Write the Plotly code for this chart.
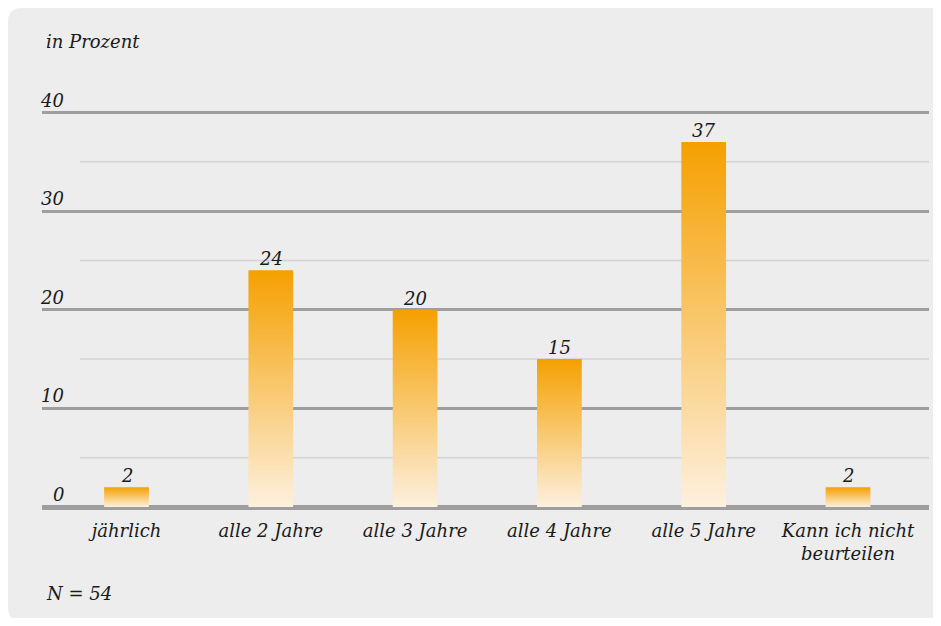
"""Bar chart: Intervall in Prozent, N = 54."""

import plotly.graph_objects as go

categories = ["jährlich", "alle 2 Jahre", "alle 3 Jahre", "alle 4 Jahre",
              "alle 5 Jahre", "Kann ich nicht<br>beurteilen"]
values = [2, 24, 20, 15, 37, 2]
major_ticks = [0, 10, 20, 30, 40]
minor_ticks = [5, 15, 25, 35]

COLORS = {
    "card": "#ECEDEC",
    "text": "#1A1A1A",
    "major": "#9E9E9E",
    "minor": "#D2D3D2",
    "bar_top": "#F5A000",
    "bar_bottom": "#FDF0DE",
}
FONT = dict(family="DejaVu Serif, Liberation Serif, serif", size=18,
            color=COLORS["text"], style="italic")

# page body adds an 8px margin, so all pixel positions are shifted back by it
OFF = 8
W, H = 941 - 2 * OFF, 626 - 2 * OFF
L, R, T, B = 42 - OFF, 929 - OFF, 100 - OFF, 510 - OFF
ZERO_PX = 507 - OFF
PX_PER_UNIT = 9.8625
BAR_W = 0.31


def px(x):
    return (x - OFF - L) / (R - L)


def py(y):
    return (B - (y - OFF)) / (B - T)


fig = go.Figure()

for i, (cat, v) in enumerate(zip(categories, values)):
    fig.add_trace(go.Scatter(
        x=[i - BAR_W / 2, i + BAR_W / 2], y=[v, v],
        mode="lines", line=dict(width=0), fill="tozeroy",
        fillgradient=dict(type="vertical",
                          colorscale=[[0, COLORS["bar_bottom"]], [1, COLORS["bar_top"]]]),
        hoverinfo="skip", showlegend=False,
    ))

# rounded card behind everything
r = 14
x0, x1, y0, y1 = 8, 960, 8, 621
card_path = (
    f"M {px(x0 + r)} {py(y0)} L {px(x1)} {py(y0)} L {px(x1)} {py(y1)} "
    f"L {px(x0 + r)} {py(y1)} Q {px(x0)} {py(y1)} {px(x0)} {py(y1 - r)} "
    f"L {px(x0)} {py(y0 + r)} Q {px(x0)} {py(y0)} {px(x0 + r)} {py(y0)} Z"
)
shapes = [dict(type="path", path=card_path, xref="paper", yref="paper",
               fillcolor=COLORS["card"], line=dict(width=0), layer="below")]
for m in minor_ticks:
    shapes.append(dict(type="line", xref="paper", yref="y", x0=px(80), x1=1,
                       y0=m, y1=m, line=dict(color=COLORS["minor"], width=1.5),
                       layer="below"))

annotations = []
for t in major_ticks:
    annotations.append(dict(text=str(t), xref="paper", yref="y", x=px(66), y=t,
                            xanchor="right", yanchor="bottom", yshift=0,
                            showarrow=False, font=FONT))
for i, v in enumerate(values):
    annotations.append(dict(text=str(v), x=i, y=v, xanchor="center", yanchor="bottom",
                            yshift=-1, showarrow=False, font=FONT))
annotations.append(dict(text="in Prozent", xref="paper", yref="paper", x=px(44), y=py(41),
                        xanchor="left", yanchor="middle", showarrow=False, font=FONT))
annotations.append(dict(text="N = 54", xref="paper", yref="paper", x=px(44), y=py(593),
                        xanchor="left", yanchor="middle", showarrow=False, font=FONT))

c0 = 126.5 - OFF
step = 144.3
fig.update_layout(
    width=W, height=H,
    margin=dict(l=L, r=W - R, t=T, b=H - B, pad=0),
    paper_bgcolor="white", plot_bgcolor="rgba(0,0,0,0)",
    font=FONT,
    shapes=shapes, annotations=annotations,
    xaxis=dict(range=[(L - c0) / step, (R - c0) / step],
               tickvals=list(range(len(categories))), ticktext=categories,
               showgrid=False, zeroline=False, showline=False, ticks="",
               ticklabelstandoff=8, tickfont=FONT, fixedrange=True),
    yaxis=dict(range=[-(B - ZERO_PX) / PX_PER_UNIT, (ZERO_PX - T) / PX_PER_UNIT],
               tickvals=major_ticks, showticklabels=False,
               showgrid=True, gridcolor=COLORS["major"], gridwidth=2.5,
               zeroline=True, zerolinecolor=COLORS["major"], zerolinewidth=5,
               showline=False, ticks="", fixedrange=True),
)

fig.write_html("out.html")
